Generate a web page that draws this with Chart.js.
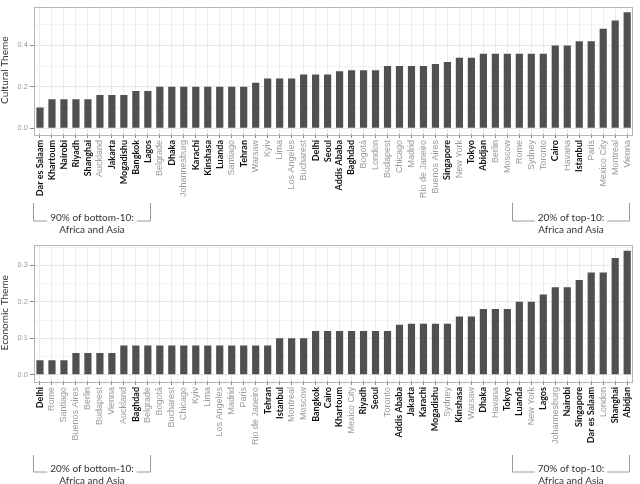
<!DOCTYPE html>
<html><head><meta charset="utf-8">
<script src="https://cdn.jsdelivr.net/npm/chart.js@4"></script>
<style>
html,body{margin:0;padding:0;background:#fff;width:640px;height:484px;overflow:hidden}
#w1{position:absolute;left:0;top:0;width:640px;height:238px}
#w2{position:absolute;left:0;top:238px;width:640px;height:246px}
</style></head><body>
<div id="w1"><canvas id="c1"></canvas></div>
<div id="w2"><canvas id="c2"></canvas></div>
<script>
const africaAsia = ['Dar es Salaam','Khartoum','Nairobi','Riyadh','Shanghai','Jakarta','Mogadishu','Bangkok','Lagos','Dhaka','Karachi','Kinshasa','Luanda','Tehran','Delhi','Seoul','Addis Ababa','Baghdad','Singapore','Tokyo','Abidjan','Cairo','Istanbul'];

const culturalCities = ['Dar es Salaam','Khartoum','Nairobi','Riyadh','Shanghai','Auckland','Jakarta','Mogadishu','Bangkok','Lagos','Belgrade','Dhaka','Johannesburg','Karachi','Kinshasa','Luanda','Santiago','Tehran','Warsaw','Kyiv','Lima','Los Angeles','Bucharest','Delhi','Seoul','Addis Ababa','Baghdad','Bogotá','London','Budapest','Chicago','Madrid','Rio de Janeiro','Buenos Aires','Singapore','New York','Tokyo','Abidjan','Berlin','Moscow','Rome','Sydney','Toronto','Cairo','Havana','Istanbul','Paris','Mexico City','Montreal','Vienna'];
const culturalValues = [0.10,0.14,0.14,0.14,0.14,0.16,0.16,0.16,0.18,0.18,0.20,0.20,0.20,0.20,0.20,0.20,0.20,0.20,0.22,0.24,0.24,0.24,0.26,0.26,0.26,0.275,0.28,0.28,0.28,0.30,0.30,0.30,0.30,0.31,0.32,0.34,0.34,0.36,0.36,0.36,0.36,0.36,0.36,0.40,0.40,0.42,0.42,0.48,0.52,0.56];
const culturalMajorTicks = [0, 0.2, 0.4];
const culturalMinorTicks = [0.1, 0.3, 0.5];
const culturalRange = [-0.028, 0.588];
const culturalBrackets = [
  {from:0, to:9, line1:'90% of bottom-10:', line2:'Africa and Asia'},
  {from:40, to:49, line1:'20% of top-10:', line2:'Africa and Asia'}
];

const economicCities = ['Delhi','Rome','Santiago','Buenos Aires','Berlin','Budapest','Vienna','Auckland','Baghdad','Belgrade','Bogotá','Bucharest','Chicago','Kyiv','Lima','Los Angeles','Madrid','Paris','Rio de Janeiro','Tehran','Istanbul','Montreal','Moscow','Bangkok','Cairo','Khartoum','Mexico City','Riyadh','Seoul','Toronto','Addis Ababa','Jakarta','Karachi','Mogadishu','Sydney','Kinshasa','Warsaw','Dhaka','Havana','Tokyo','Luanda','New York','Lagos','Johannesburg','Nairobi','Singapore','Dar es Salaam','London','Shanghai','Abidjan'];
const economicValues = [0.04,0.04,0.04,0.06,0.06,0.06,0.06,0.08,0.08,0.08,0.08,0.08,0.08,0.08,0.08,0.08,0.08,0.08,0.08,0.08,0.10,0.10,0.10,0.12,0.12,0.12,0.12,0.12,0.12,0.12,0.137,0.14,0.14,0.14,0.14,0.16,0.16,0.18,0.18,0.18,0.20,0.20,0.22,0.24,0.24,0.26,0.28,0.28,0.32,0.34];
const economicMajorTicks = [0, 0.1, 0.2, 0.3];
const economicMinorTicks = [0.05, 0.15, 0.25, 0.35];
const economicRange = [-0.017, 0.357];
const economicBrackets = [
  {from:0, to:9, line1:'20% of bottom-10:', line2:'Africa and Asia'},
  {from:40, to:49, line1:'70% of top-10:', line2:'Africa and Asia'}
];

const decorPlugin = {
  id: 'decor',
  afterDatasetsDraw(chart) {
    const a = chart.chartArea, ctx = chart.ctx;
    ctx.save();
    ctx.strokeStyle = '#b5b5b5';
    ctx.lineWidth = 1;
    ctx.strokeRect(Math.round(a.left) + 0.5, Math.round(a.top) + 0.5, Math.round(a.right - a.left) - 1, Math.round(a.bottom - a.top));
    ctx.restore();
  },
  afterDraw(chart, args, opts) {
    const xs = chart.scales.x, ctx = chart.ctx;
    const cw = xs.getPixelForValue(1) - xs.getPixelForValue(0);
    const y1 = xs.bottom + opts.dy1, y2 = xs.bottom + opts.dy2;
    ctx.save();
    ctx.font = '10px Lato';
    ctx.textAlign = 'center';
    ctx.textBaseline = 'middle';
    (opts.brackets || []).forEach(b => {
      const L = Math.round(xs.getPixelForValue(b.from) - cw / 2 - 1.5) + 0.5;
      const R = Math.round(xs.getPixelForValue(b.to) + cw / 2 - 4) + 0.5;
      const cx = (L + R) / 2;
      const tw = ctx.measureText(b.line1).width;
      ctx.strokeStyle = '#9a9a9a';
      ctx.lineWidth = 1;
      ctx.beginPath();
      ctx.moveTo(L, y1); ctx.lineTo(L, y2); ctx.lineTo(cx - tw / 2 - 3, y2);
      ctx.moveTo(R, y1); ctx.lineTo(R, y2); ctx.lineTo(cx + tw / 2 + 3, y2);
      ctx.stroke();
      ctx.fillStyle = '#333';
      ctx.fillText(b.line1, cx, y2 - 3.5);
      ctx.fillText(b.line2, cx, y2 + 8.5);
    });
    ctx.restore();
  }
};

function near(list, v) { return list.some(m => Math.abs(m - v) < 1e-9); }

function makeChart(id, cities, values, major, minor, range, title, xHeight, pad, brackets, dy) {
  const allTicks = major.concat(minor).sort((p, q) => p - q);
  return new Chart(document.getElementById(id), {
    type: 'bar',
    data: {
      labels: cities,
      datasets: [{ data: values, backgroundColor: '#505050', borderWidth: 0, barPercentage: 0.6, categoryPercentage: 1.0 }]
    },
    options: {
      responsive: true, maintainAspectRatio: false, animation: false,
      layout: { padding: pad },
      plugins: { legend: { display: false }, tooltip: { enabled: false },
        decor: { brackets: brackets, dy1: dy[0], dy2: dy[1] } },
      scales: {
        x: {
          grid: { offset: false, color: '#ececec', tickLength: 4, tickColor: '#888' },
          border: { display: false },
          ticks: {
            autoSkip: false, minRotation: 90, maxRotation: 90, padding: 2,
            font: c => africaAsia.includes(cities[c.index])
              ? { family: 'Lato', size: 9, weight: 'bold' }
              : { family: 'Liberation Sans', size: 9, weight: 'normal' },
            color: c => africaAsia.includes(cities[c.index]) ? '#111111' : '#999999'
          },
          afterFit: s => { s.height = xHeight; }
        },
        y: {
          min: range[0], max: range[1],
          afterBuildTicks: s => { s.ticks = allTicks.map(v => ({ value: v })); },
          afterFit: s => { s.width = 34; },
          ticks: {
            autoSkip: false, padding: 2,
            callback: v => near(major, v) ? v.toFixed(1) : '',
            font: { family: 'Liberation Sans', size: 7.5 }, color: '#999999'
          },
          grid: {
            color: c => near(major, c.tick.value) ? '#e8e8e8' : '#f3f3f3',
            tickLength: 4,
            tickColor: c => near(major, c.tick.value) ? '#888' : 'rgba(0,0,0,0)'
          },
          border: { display: false },
          title: { display: true, text: title, font: { family: 'Lato', size: 10, lineHeight: 1 }, color: '#333', padding: { top: 0, bottom: 0 } }
        }
      }
    },
    plugins: [decorPlugin]
  });
}

makeChart('c1', culturalCities, culturalValues, culturalMajorTicks, culturalMinorTicks, culturalRange,
  'Cultural Theme', 66, { top: 1, right: 2, left: 0, bottom: 38 }, culturalBrackets, [3, 21]);
makeChart('c2', economicCities, economicValues, economicMajorTicks, economicMinorTicks, economicRange,
  'Economic Theme', 69, { top: 6, right: 2, left: 0, bottom: 34 }, economicBrackets, [5, 22]);
</script>
</body></html>
